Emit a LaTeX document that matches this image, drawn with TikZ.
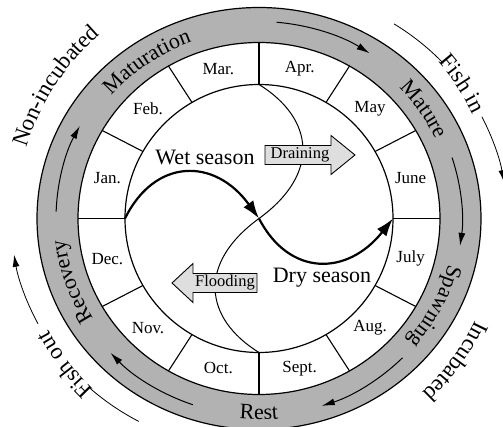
\documentclass[tikz,border=0pt]{standalone}
\usepackage{fontspec}
\setmainfont{Liberation Serif}
\usetikzlibrary{arrows.meta, decorations.text, positioning}
\tikzset{> = { Latex[length = 12pt, width = 7pt] }}
\colorlet{ringgray}{black!30}
\colorlet{flowgray}{black!13}
\tikzset{
	month/.style = {font = \fontsize{17}{17}\selectfont},
	season/.style = {font = \fontsize{22}{22}\selectfont},
	flow/.style = {draw, fill = flowgray, line width = 0.9pt},
	flowtext/.style = {font = \fontsize{16.5}{16.5}\selectfont, inner sep = 0pt},
	ring arrow/.style = {-{Latex[length = 13pt, width = 7pt]}, line width = 1pt},
	season arrow/.style = {-{Latex[length = 18pt, width = 12pt]}, line width = 2.2pt},
	ringtext/.style = {decoration = {text along path, text align = center, text = {|\fontsize{22}{22}\selectfont|#1}}, decorate},
	outertext/.style = {decoration = {text along path, text align = center, text = {|\fontsize{23}{23}\selectfont|#1}}, decorate},
}

\begin{document}
\begin{tikzpicture}[x = 1pt, y = 1pt]
		\useasboundingbox (-259, -208.5) rectangle (244, 218.5);
		% rings
		\path [draw, fill = ringgray, even odd rule, line width = 1.2pt] (0, 0) ellipse [x radius = 222, y radius = 211] (0, 0) ellipse [x radius = 181, y radius = 176];
		\draw [line width = 1.2pt] (0, 0) circle [radius = 134];
		\foreach \a in {0, 30, ..., 330}
			\draw [line width = 1.1pt] (\a:134) -- (\a:181 and 176);

		\node [month] (jan) at (165:157 and 155) {Jan.};
		\node [month] (feb) at (135:157 and 155) {Feb.};
		\node [month] (mar) at (105:157 and 155) {Mar.};
		\node [month] (apr) at (75:157 and 155) {Apr.};
		\node [month] (may) at (45:157 and 155) {May};
		\node [month] (jun) at (15:157 and 155) {June};
		\node [month] (jul) at (-15:157 and 155) {July};
		\node [month] (aug) at (-45:157 and 155) {Aug.};
		\node [month] (sep) at (-75:157 and 155) {Sept.};
		\node [month] (oct) at (-105:157 and 155) {Oct.};
		\node [month] (nov) at (-135:157 and 155) {Nov.};
		\node [month] (dec) at (-165:157 and 155) {Dec.};

		% seasons
		\coordinate (W) at (180:134);
		\coordinate (C) at (0, 0);
		\coordinate (E) at (0:134);
		\coordinate (N) at (90:134);
		\coordinate (S) at (270:134);
		\draw [line width = 1pt] (N) .. controls (55, 100) and (62, 45) .. (C) .. controls (-62, -45) and (-55, -100) .. (S);
		\draw [season arrow] (W) .. controls (-104, 61) and (-44, 61) .. (C);
		\draw [season arrow] (C) .. controls (30, -58) and (88, -58) .. (E);
		\node [season] (wet) at (-54, 61.5) {Wet season};
		\node [season] (dry) at (63, -59.5) {Dry season};

		\draw [flow] (6, 54) -- (72, 54) -- (72, 44) -- (96, 63.5) -- (72, 83) -- (72, 73) -- (6, 73) -- cycle;
		\node [flowtext] (drain) at (41, 63.5) {Draining};
		\draw [flow] (-2, -74) -- (-66, -74) -- (-66, -84) -- (-87, -64.5) -- (-66, -45) -- (-66, -55) -- (-2, -55) -- cycle;
		\node [flowtext] (flood) at (-34, -64.5) {Flooding};

		% stages in the gray ring
		\draw [ring arrow] (178:203 and 197) arc [start angle = 178, end angle = 152, x radius = 203, y radius = 197];
		\draw [ring arrow] (85:203 and 197) arc [start angle = 85, end angle = 57, x radius = 203, y radius = 197];
		\draw [ring arrow] (18:203 and 197) arc [start angle = 18, end angle = -8, x radius = 203, y radius = 197];
		\draw [ring arrow] (-45:203 and 197) arc [start angle = -45, end angle = -72, x radius = 203, y radius = 197];
		\draw [ring arrow] (-109:203 and 197) arc [start angle = -109, end angle = -137, x radius = 203, y radius = 197];
		\path [ringtext = Maturation] (165:195 and 188) arc [start angle = 165, end angle = 85, x radius = 195, y radius = 188];
		\path [ringtext = Mature] (74:195 and 188) arc [start angle = 74, end angle = -6, x radius = 195, y radius = 188];
		\path [ringtext = Spawning] (13:195 and 188) arc [start angle = 13, end angle = -67, x radius = 195, y radius = 188];
		\path [ringtext = Recovery] (-121:195 and 188) arc [start angle = -121, end angle = -201, x radius = 195, y radius = 188];
		\path [ringtext = Rest] (-130:207 and 201) arc [start angle = -130, end angle = -50, x radius = 207, y radius = 201];

		% outside
		\path [outertext = Non-incubated] (172:243) arc [start angle = 172, end angle = 122, radius = 243];
		\path [outertext = Fish in] (58:238) arc [start angle = 58, end angle = 9, radius = 238];
		\path [outertext = Incubated] (-11:239) arc [start angle = -11, end angle = -61, radius = 239];
		\path [outertext = Fish out] (-118:238) arc [start angle = -118, end angle = -168, radius = 238];
		\draw [line width = 0.8pt] (57:248 and 232) arc [start angle = 57, end angle = 42, x radius = 248, y radius = 232];
		\draw [->, line width = 0.8pt] (26:248 and 232) arc [start angle = 26, end angle = 9, x radius = 248, y radius = 232];
		\draw [line width = 0.8pt] (-119:248 and 232) arc [start angle = -119, end angle = -133, x radius = 248, y radius = 232];
		\draw [->, line width = 0.8pt] (-153:248 and 232) arc [start angle = -153, end angle = -171, x radius = 248, y radius = 232];
	\end{tikzpicture}
\end{document}
